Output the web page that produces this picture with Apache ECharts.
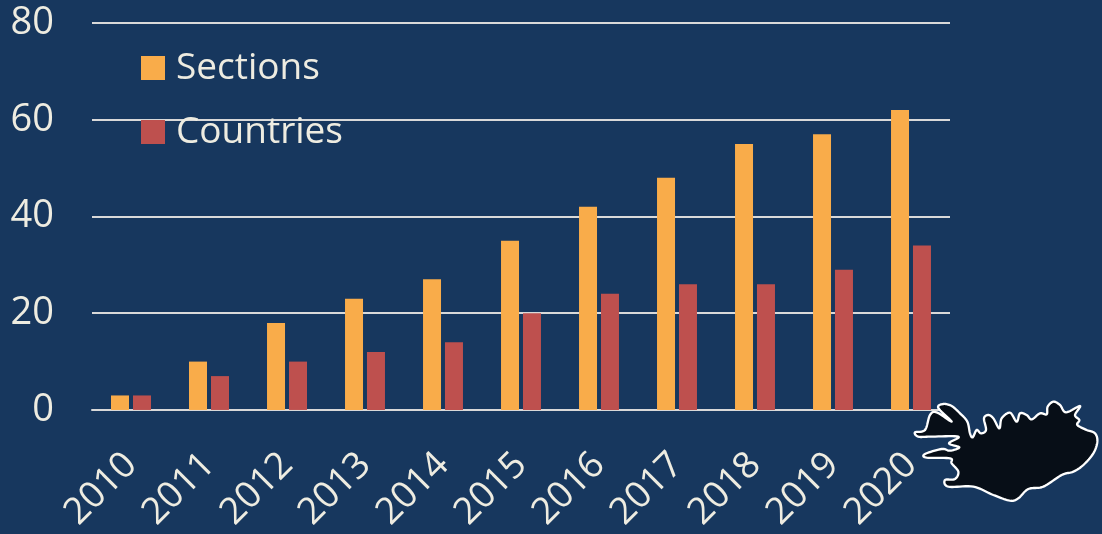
<!DOCTYPE html>
<html><head><meta charset="utf-8">
<style>html,body{margin:0;padding:0;background:#17375e}#c{width:1102px;height:534px}</style>
<script src="https://cdn.jsdelivr.net/npm/echarts@6/dist/echarts.min.js"></script>
</head><body><div id="c"></div>
<script>
const categories = ['2010','2011','2012','2013','2014','2015','2016','2017','2018','2019','2020'];
const sections = [3,10,18,23,27,35,42,48,55,57,62];
const countries = [3,7,10,12,14,20,24,26,26,29,34];
const yTicks = {min:0,max:80,interval:20};
const icelandOutline = [[175,84],[190,72],[215,78],[240,100],[262,125],[270,160],[278,172],[290,150],[303,160],[318,150],[312,115],[325,105],[340,115],[358,145],[365,115],[390,98],[410,125],[420,100],[440,105],[455,118],[480,100],[500,103],[503,80],[520,65],[540,75],[558,97],[600,78],[585,105],[598,120],[592,135],[620,150],[645,160],[652,185],[640,220],[610,255],[580,275],[545,285],[490,320],[445,327],[415,355],[390,362],[340,345],[280,320],[205,320],[195,300],[225,297],[235,275],[215,250],[210,235],[140,233],[135,222],[185,207],[210,212],[238,202],[207,190],[235,170],[150,170],[115,170],[105,157],[135,150],[150,105],[170,97],[215,125]];
// Rounded outline for the decorative map shape
function roundOutline(p){
  const out=[],n=p.length;
  for(let i=0;i<n;i++){
    const a=p[(i-1+n)%n],b=p[i],c=p[(i+1)%n],d=p[(i+2)%n];
    for(let k=0;k<10;k++){
      const t=k/10,t2=t*t,t3=t2*t;
      out.push([0,1].map(j=>0.5*(2*b[j]+(c[j]-a[j])*t+(2*a[j]-5*b[j]+4*c[j]-d[j])*t2+(3*b[j]-a[j]-3*c[j]+d[j])*t3)));
    }
  }
  return out;
}
const font = '"Open Sans"';
const textColor = '#eeece1';
const chart = echarts.init(document.getElementById('c'));
chart.setOption({
  animation:false,
  backgroundColor:'#17375e',
  textStyle:{fontFamily:font},
  grid:{left:92,right:152,top:23,bottom:124,containLabel:false},
  legend:{orient:'vertical',left:136,top:43,itemWidth:24,itemHeight:24,itemGap:24,icon:'rect',
    textStyle:{color:textColor,fontSize:37,fontFamily:font,padding:[4,0,0,6],lineHeight:36},
    data:['Sections','Countries']},
  xAxis:{type:'category',data:categories,
    axisLine:{lineStyle:{color:'#d9d9d9',width:2}},axisTick:{show:false},
    axisLabel:{color:textColor,fontSize:37,rotate:45,margin:49,fontFamily:font,interval:0}},
  yAxis:{type:'value',min:yTicks.min,max:yTicks.max,interval:yTicks.interval,
    axisLine:{show:false},axisTick:{show:false},
    splitLine:{lineStyle:{color:'#d9d9d9',width:2}},
    axisLabel:{color:textColor,fontSize:38,margin:38,fontFamily:font,padding:[8,0,0,0]}},
  series:[
    {name:'Sections',type:'bar',data:sections,barWidth:18,barGap:'22%',itemStyle:{color:'#f9ac4a'}},
    {name:'Countries',type:'bar',data:countries,barWidth:18,barGap:'22%',itemStyle:{color:'#be504e'}}
  ],
  graphic:[{type:'polygon',x:880,y:380,scaleX:1/3,scaleY:1/3,z:100,
    shape:{points:roundOutline(icelandOutline)},
    style:{fill:'#070e17',stroke:'#ffffff',lineWidth:7,lineJoin:'round'}}]
});
</script></body></html>
